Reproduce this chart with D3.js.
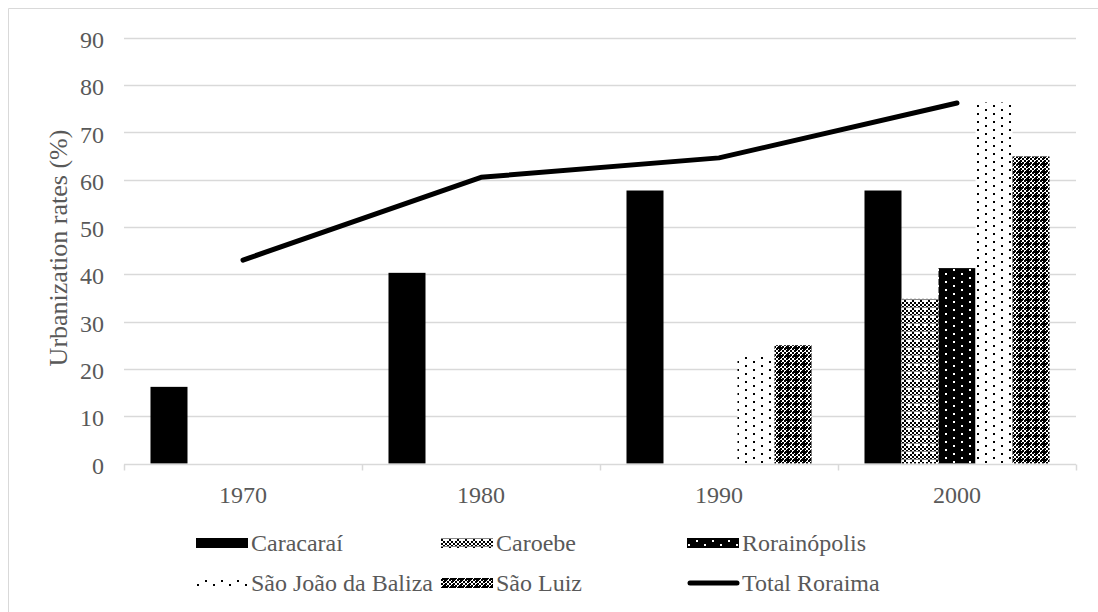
<!DOCTYPE html>
<html>
<head>
<meta charset="utf-8">
<script src="https://cdn.jsdelivr.net/npm/d3@7"></script>
<style>
  html, body { margin: 0; padding: 0; background: #fff; }
  svg { display: block; }
</style>
</head>
<body>
<svg id="chart" width="1098" height="612"></svg>
<script>
// Urbanization rates (%) by municipality and census year
const years = ["1970", "1980", "1990", "2000"];
const seriesNames = ["Caracaraí", "Caroebe", "Rorainópolis", "São João da Baliza", "São Luiz"];
const caracarai = [16.2, 40.3, 57.7, 57.7];
const caroebe = [null, null, null, 34.8];
const rorainopolis = [null, null, null, 41.3];
const saoJoaoBaliza = [null, null, 22.8, 76.3];
const saoLuiz = [null, null, 25.0, 64.9];
const totalRoraima = [43.0, 60.5, 64.6, 76.2];
const yTicks = [0, 10, 20, 30, 40, 50, 60, 70, 80, 90];

const seriesValues = [caracarai, caroebe, rorainopolis, saoJoaoBaliza, saoLuiz];

const FONT = '"Liberation Serif", "Times New Roman", serif';
const TEXT_COLOR = "#595959";
function styleText(sel, size) {
  return sel.style("font-family", FONT).style("font-size", (size || 24) + "px").style("fill", TEXT_COLOR);
}

const svg = d3.select("#chart");

// Fill patterns for the bar series
const defs = svg.append("defs");
function pattern(id, w, h, bg, draw) {
  const p = defs.append("pattern").attr("id", id)
    .attr("patternUnits", "userSpaceOnUse").attr("width", w).attr("height", h);
  p.append("rect").attr("width", w).attr("height", h).attr("fill", bg);
  draw(p);
}
// Caroebe: fine checkerboard broken by white crosses
pattern("pCaroebe", 8, 8, "#fff", p => {
  for (let i = 0; i < 8; i += 2)
    for (let j = 0; j < 8; j += 2)
      if (((i + j) / 2) % 2 === 0 && !(i === 4 && j === 4))
        p.append("rect").attr("x", i).attr("y", j).attr("width", 2).attr("height", 2).attr("fill", "#000");
  p.append("rect").attr("x", 0).attr("y", 3).attr("width", 8).attr("height", 1).attr("fill", "#888");
});
// Rorainópolis: black with sparse white dots
pattern("pRorainopolis", 16, 8, "#000", p => {
  p.append("rect").attr("x", 1).attr("y", 1).attr("width", 2).attr("height", 2).attr("fill", "#fff");
  p.append("rect").attr("x", 9).attr("y", 5).attr("width", 2).attr("height", 2).attr("fill", "#fff");
});
// São João da Baliza: white with sparse black dots
pattern("pSJB", 16, 8, "#fff", p => {
  p.append("rect").attr("x", 1).attr("y", 1).attr("width", 2).attr("height", 2).attr("fill", "#000");
  p.append("rect").attr("x", 9).attr("y", 5).attr("width", 2).attr("height", 2).attr("fill", "#000");
});
// São Luiz: dense checkerboard with black crosses
pattern("pSaoLuiz", 8, 8, "#fff", p => {
  for (let i = 0; i < 8; i += 2)
    for (let j = 0; j < 8; j += 2)
      if (((i + j) / 2) % 2 === 0)
        p.append("rect").attr("x", i).attr("y", j).attr("width", 2).attr("height", 2).attr("fill", "#000");
  p.append("rect").attr("x", 1).attr("y", 3).attr("width", 6).attr("height", 2).attr("fill", "#000");
  p.append("rect").attr("x", 3).attr("y", 1).attr("width", 2).attr("height", 6).attr("fill", "#000");
});
const fills = ["#000", "url(#pCaroebe)", "url(#pRorainopolis)", "url(#pSJB)", "url(#pSaoLuiz)"];

// Outer frame
svg.append("path").attr("d", "M8.5,612 V8.5 H1098")
  .attr("fill", "none").attr("stroke", "#d9d9d9").attr("stroke-width", 1);

const plotLeft = 124, plotRight = 1076, plotTop = 37.7, plotBottom = 463.5;
const x = d3.scaleBand().domain(years).range([plotLeft, plotRight]).paddingInner(0).paddingOuter(0);
const xs = d3.scaleBand().domain(seriesNames).range([0, x.bandwidth()]).paddingInner(0).paddingOuter(0.716);
const y = d3.scaleLinear().domain([0, 90]).range([plotBottom, plotTop]);

// Horizontal gridlines
svg.append("g").selectAll("line").data(yTicks.filter(t => t > 0)).join("line")
  .attr("x1", plotLeft).attr("x2", plotRight)
  .attr("y1", d => Math.round(y(d)) + 0.5).attr("y2", d => Math.round(y(d)) + 0.5)
  .attr("stroke", "#d9d9d9").attr("stroke-width", 1.5);

// Y tick labels
const yAxis = svg.append("g").attr("transform", `translate(${plotLeft},2)`)
  .call(d3.axisLeft(y).tickValues(yTicks).tickSize(0).tickPadding(20));
yAxis.select(".domain").remove();
styleText(yAxis.selectAll("text"));

// Bars
seriesNames.forEach((name, si) => {
  svg.append("g").selectAll("rect")
    .data(years.map((yr, i) => ({ yr, v: seriesValues[si][i] })).filter(d => d.v != null))
    .join("rect")
    .attr("x", d => x(d.yr) + xs(name))
    .attr("width", xs.bandwidth())
    .attr("y", d => y(d.v))
    .attr("height", d => y(0) - y(d.v))
    .attr("fill", fills[si]);
});

// X axis with category separators
const xAxis = svg.append("g").attr("transform", `translate(0,${Math.round(plotBottom) + 0.5})`);
xAxis.append("line").attr("x1", plotLeft).attr("x2", plotRight).attr("stroke", "#d9d9d9").attr("stroke-width", 1.5);
xAxis.selectAll(".sep").data(d3.range(years.length + 1)).join("line")
  .attr("x1", i => plotLeft + i * x.step() + 0.5).attr("x2", i => plotLeft + i * x.step() + 0.5)
  .attr("y1", 0).attr("y2", 6).attr("stroke", "#d9d9d9").attr("stroke-width", 1.5);
styleText(xAxis.selectAll("text").data(years).join("text")
  .attr("x", d => x(d) + x.bandwidth() / 2).attr("y", 38)
  .attr("text-anchor", "middle").text(d => d));

// Total Roraima line
const line = d3.line().x((d, i) => x(years[i]) + x.bandwidth() / 2).y(d => y(d));
svg.append("path").datum(totalRoraima).attr("d", line)
  .attr("fill", "none").attr("stroke", "#000").attr("stroke-width", 5)
  .attr("stroke-linecap", "round").attr("stroke-linejoin", "round");

// Y axis title
styleText(svg.append("text").attr("transform", "translate(67,248) rotate(-90)")
  .attr("text-anchor", "middle").text("Urbanization rates (%)"), 26);

// Legend
const legendItems = [
  { name: "Caracaraí", fill: fills[0], x: 196, y: 543 },
  { name: "Caroebe", fill: fills[1], x: 441, y: 543 },
  { name: "Rorainópolis", fill: fills[2], x: 687, y: 543 },
  { name: "São João da Baliza", fill: fills[3], x: 196, y: 583 },
  { name: "São Luiz", fill: fills[4], x: 441, y: 583 },
  { name: "Total Roraima", line: true, x: 687, y: 583 }
];
const lg = svg.append("g").selectAll("g").data(legendItems).join("g")
  .attr("transform", d => `translate(${d.x},${d.y})`);
lg.filter(d => !d.line).append("rect")
  .attr("x", 0).attr("y", -5).attr("width", 52).attr("height", 10).attr("fill", d => d.fill);
lg.filter(d => d.line).append("line")
  .attr("x1", 3).attr("x2", 50).attr("y1", 0).attr("y2", 0)
  .attr("stroke", "#000").attr("stroke-width", 5).attr("stroke-linecap", "round");
styleText(lg.append("text").attr("x", 55).attr("y", 8).text(d => d.name));
</script>
</body>
</html>
